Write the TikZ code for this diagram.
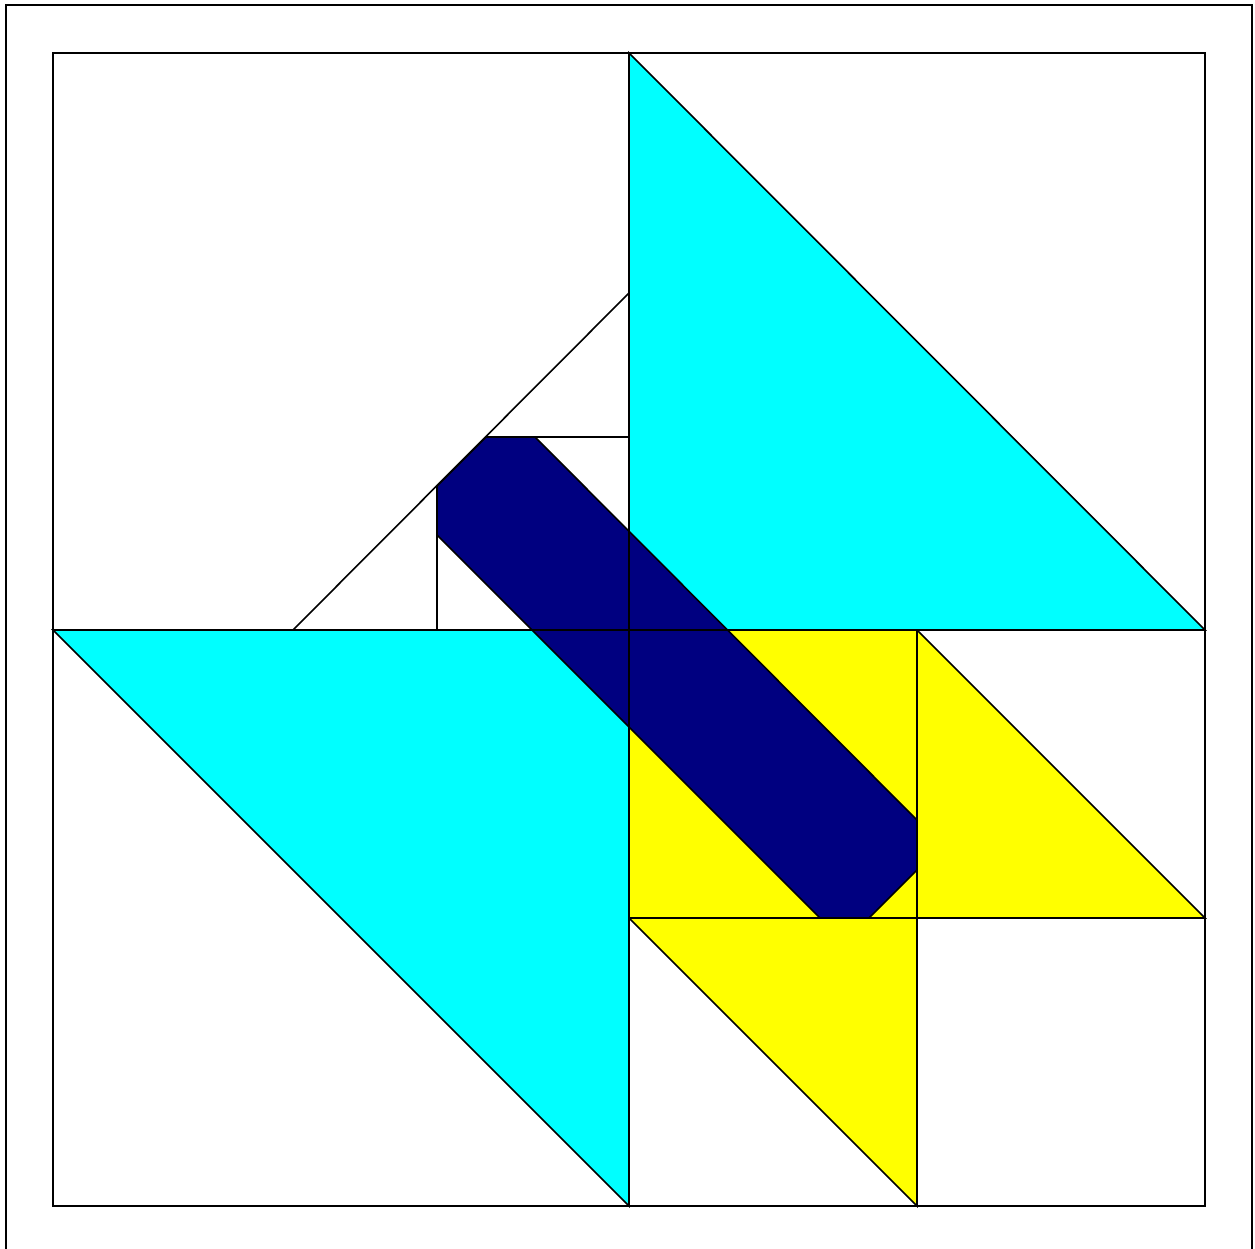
\documentclass[tikz,border=0pt]{standalone}
\definecolor{qcyan}{HTML}{00FFFF}
\definecolor{qyellow}{HTML}{FFFF00}
\definecolor{qnavy}{HTML}{000080}
\begin{document}
\begin{tikzpicture}[x=1pt,y=-1pt,line width=1.6pt,line join=miter,
  edge/.style={draw=black},
  patch/.style={draw=black}]
\useasboundingbox (0,0) rectangle (1255,1249);
\clip (0,0) rectangle (1255,1249);
% outer frame
\draw[edge] (6,5) rectangle (1252,1254);
% yellow patches
\fill[qyellow] (629,630) rectangle (917,918);
\filldraw[patch,fill=qyellow] (917,630) -- (1205,918) -- (917,918) -- cycle;
\filldraw[patch,fill=qyellow] (629,918) -- (917,918) -- (917,1206) -- cycle;
% cyan triangles
\filldraw[patch,fill=qcyan] (629,53) -- (1205,630) -- (629,630) -- cycle;
\filldraw[patch,fill=qcyan] (53,630) -- (629,630) -- (629,1206) -- cycle;
% navy band
\filldraw[patch,fill=qnavy] (486,437) -- (535,437) -- (917,820) -- (917,870) -- (869,918)
  -- (820,918) -- (437,535) -- (437,486) -- cycle;
% top-left lines
\draw[edge] (293,630) -- (629,293);
\draw[edge] (486,437) -- (629,437);
\draw[edge] (437,486) -- (437,630);
% grid lines
\draw[edge] (53,630) -- (1205,630);
\draw[edge] (629,53) -- (629,1206);
\draw[edge] (917,630) -- (917,1206);
\draw[edge] (629,918) -- (1205,918);
% inner square
\draw[edge] (53,53) rectangle (1205,1206);
\end{tikzpicture}
\end{document}
